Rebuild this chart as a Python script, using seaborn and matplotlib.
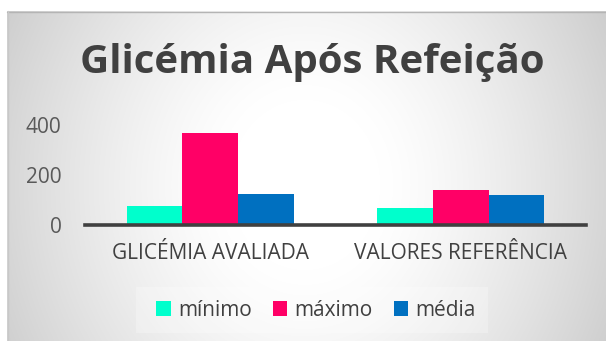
import numpy as np
import pandas as pd
import matplotlib
matplotlib.use("Agg")
import matplotlib.pyplot as plt
from matplotlib.patches import Rectangle
import seaborn as sns

categories = ["GLICÉMIA AVALIADA", "VALORES REFERÊNCIA"]
series = ["mínimo", "máximo", "média"]
minimo = [75, 70]
maximo = [368, 140]
media = [125, 120]
colors = ["#00FFCC", "#FF0066", "#0070C0"]
yticks = [0, 200, 400]

df = pd.DataFrame({
    "categoria": categories * 3,
    "serie": [s for s in series for _ in categories],
    "valor": minimo + maximo + media,
})

sns.set_theme(style="white")
plt.rcParams["font.family"] = ["Open Sans", "DejaVu Sans"]

W, H = 606, 341
fig = plt.figure(figsize=(W / 100, H / 100), dpi=100)

# radial grey background of the chart area
bg = fig.add_axes([0, 0, 1, 1], zorder=-10)
bg.set_xlim(0, W)
bg.set_ylim(H, 0)
bg.axis("off")
x0, y0 = 7, 11
xs = np.arange(x0, W) + 0.5
ys = np.arange(y0, H) + 0.5
X, Y = np.meshgrid(xs, ys)
cx, cy, rx, ry = 305, 185, 300, 340
d = np.sqrt(((X - cx) / rx) ** 2 + ((Y - cy) / ry) ** 2)
t = np.clip((d - 0.25) / 1.1, 0, 1) ** 1.3
v = 1.0 - 0.26 * t
img = np.dstack([v, v, v])
bg.imshow(img, extent=(x0, W, H, y0), aspect="auto", interpolation="bilinear")
bg.plot([x0, W], [y0 + 0.5, y0 + 0.5], color="#b4b4b4", lw=1)
bg.plot([x0 + 0.5, x0 + 0.5], [y0, H], color="#c8c8c8", lw=1)

# legend backdrop
bg.add_patch(Rectangle((136, 287), 352, 46, facecolor="white", alpha=0.25,
                       edgecolor="none"))

ax = fig.add_axes([85 / W, 1 - 225 / H, 501 / W, 100 / H])
ax.patch.set_alpha(0)
sns.barplot(data=df, x="categoria", y="valor", hue="serie", hue_order=series,
            palette=colors, width=0.667, gap=0, saturation=1, ax=ax,
            edgecolor="none", linewidth=0, legend=False)
ax.set_xlim(-0.5, 1.5)
ax.set_ylim(0, 400)
ax.set_yticks(yticks)
ax.set_yticklabels([str(t) for t in yticks])
ax.set_xlabel("")
ax.set_ylabel("")
for s in ["top", "right", "left"]:
    ax.spines[s].set_visible(False)
ax.spines["bottom"].set_color("#404040")
ax.spines["bottom"].set_linewidth(2.6)
ax.tick_params(axis="both", length=0, colors="#595959", labelsize=15)
ax.tick_params(axis="y", pad=17)
ax.tick_params(axis="x", pad=13)
for lbl in ax.get_xticklabels():
    lbl.set_fontsize(15)
    lbl.set_color("#404040")

fig.text(312 / W, 1 - 62 / H, "Glicémia Após Refeição", ha="center",
         va="center", fontsize=29, fontweight="bold", color="#404040")

handles = [Rectangle((0, 0), 1, 1, facecolor=c, edgecolor="none") for c in colors]
fig.legend(handles, series, loc="center", bbox_to_anchor=(316 / W, 1 - 310 / H),
           ncol=3, frameon=False, handlelength=0.7, handleheight=0.7,
           handletextpad=0.35, columnspacing=1.0, fontsize=15,
           labelcolor="#404040")

fig.savefig("out.png", dpi=100)
